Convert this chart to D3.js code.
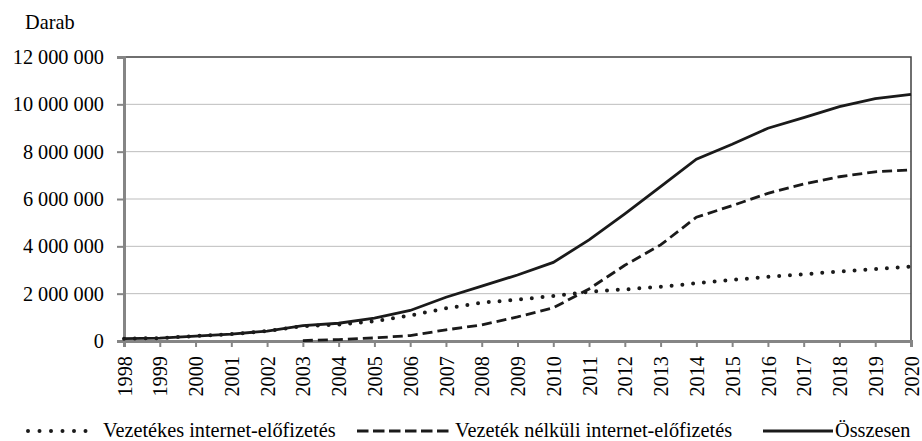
<!DOCTYPE html>
<html><head><meta charset="utf-8">
<script src="https://cdn.jsdelivr.net/npm/d3@7"></script>
<style>
body{margin:0;background:#fff;}
</style></head>
<body><svg id="c" width="922" height="441" font-family="Liberation Serif"></svg>
<script>
const years = [1998,1999,2000,2001,2002,2003,2004,2005,2006,2007,2008,2009,2010,2011,2012,2013,2014,2015,2016,2017,2018,2019,2020];
const wired = [100000,120000,210000,290000,420000,630000,690000,830000,1080000,1380000,1620000,1750000,1900000,2080000,2180000,2290000,2440000,2580000,2710000,2820000,2940000,3040000,3150000];
const wireless = [null,null,null,null,null,20000,60000,130000,230000,470000,680000,1020000,1400000,2200000,3200000,4060000,5230000,5720000,6240000,6630000,6940000,7150000,7230000];
const total = [100000,120000,210000,290000,420000,650000,750000,970000,1290000,1850000,2320000,2790000,3320000,4270000,5370000,6520000,7680000,8310000,8990000,9440000,9900000,10240000,10420000];
const yTicks = [0,2000000,4000000,6000000,8000000,10000000,12000000];
const seriesNames = ["Vezetékes internet-előfizetés","Vezeték nélküli internet-előfizetés","Összesen"];
const yLabel = "Darab";

const FONT = "Liberation Serif";
const FS = 20.3;
const svg = d3.select("#c");
const L=124, R=911, T=57, B=341;
const x = d3.scaleLinear().domain([1998,2020]).range([L,R]);
const y = d3.scaleLinear().domain([0,12000000]).range([B,T]);
const fmt = v => d3.format(",")(v).replace(/,/g," ");

// gridlines
svg.append("g").selectAll("line").data(yTicks.filter(v=>v>0 && v<12000000)).join("line")
  .attr("x1",L).attr("x2",R).attr("y1",d=>y(d)).attr("y2",d=>y(d))
  .attr("stroke","#bdbdbd").attr("stroke-width",1);
// top & right frame
svg.append("path").attr("d",`M${L},${T}H${R}V${B}`).attr("fill","none").attr("stroke","#404040").attr("stroke-width",1.5);

// y axis
const ya = svg.append("g").attr("transform",`translate(${L},0)`)
  .call(d3.axisLeft(y).tickValues(yTicks).tickFormat(fmt).tickSize(7).tickPadding(13));
ya.attr("font-family",FONT).attr("font-size",FS);
ya.select(".domain").attr("stroke","#858585").attr("stroke-width",3);
ya.selectAll(".tick line").attr("stroke","#858585").attr("stroke-width",2);
ya.selectAll("text").attr("fill","#000");

// x axis
const xa = svg.append("g").attr("transform",`translate(0,${B})`)
  .call(d3.axisBottom(x).tickValues(years).tickFormat(d3.format("d")).tickSize(6).tickPadding(0));
xa.attr("font-family",FONT).attr("font-size",FS);
xa.select(".domain").attr("stroke","#858585").attr("stroke-width",3);
xa.selectAll(".tick line").attr("stroke","#858585").attr("stroke-width",2);
xa.selectAll("text").attr("fill","#000")
  .attr("transform","rotate(-90)").attr("text-anchor","end").attr("x",-15).attr("y",0).attr("dy","0.35em");

// y label
svg.append("text").attr("x",25).attr("y",29).attr("font-size",FS).attr("font-family",FONT).text(yLabel);

const styles = [
  {dash:"0 10.8", w:4, cap:"round"},
  {dash:"10 5", w:2.8, cap:"butt"},
  {dash:null, w:2.8, cap:"butt"}
];
const legDash = ["0 11.5","11.5 4.5",null];
const data = [wired, wireless, total];
const line = d3.line().defined(d=>d[1]!=null).x(d=>x(d[0])).y(d=>y(d[1]));
data.forEach((s,i)=>{
  svg.append("path").datum(years.map((yr,j)=>[yr,s[j]]))
    .attr("d",line).attr("fill","none").attr("stroke","#1a1a1a")
    .attr("stroke-width",styles[i].w).attr("stroke-linecap",styles[i].cap)
    .attr("stroke-dasharray",styles[i].dash);
});

// legend
const leg = [
  {x1:28,x2:97,tx:103},
  {x1:357,x2:452,tx:455},
  {x1:763,x2:833,tx:835}
];
const ly = 431;
leg.forEach((l,i)=>{
  svg.append("line").attr("x1",l.x1).attr("x2",l.x2).attr("y1",ly).attr("y2",ly)
    .attr("stroke","#1a1a1a").attr("stroke-width",styles[i].w).attr("stroke-linecap",styles[i].cap)
    .attr("stroke-dasharray",legDash[i]);
  svg.append("text").attr("x",l.tx).attr("y",ly+6).attr("font-size",FS).attr("font-family",FONT).text(seriesNames[i]);
});
</script></body></html>
